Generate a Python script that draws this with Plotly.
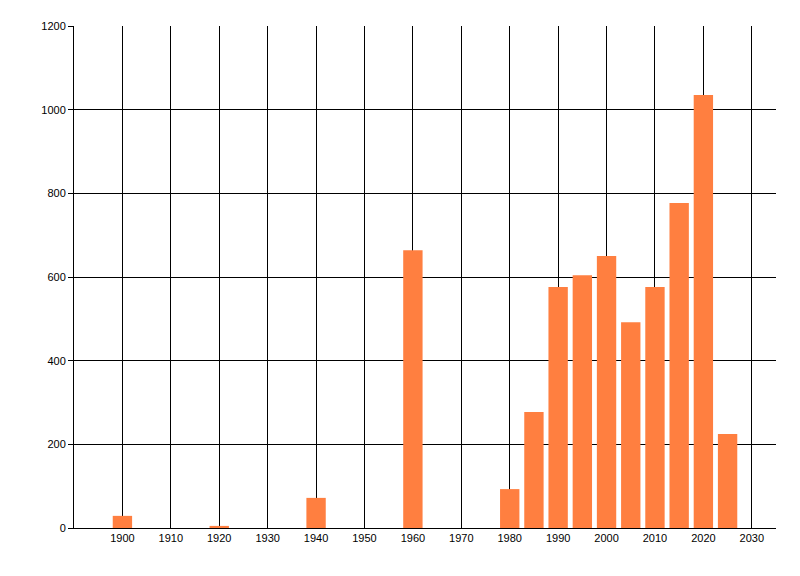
import plotly.graph_objects as go

years = [1900, 1920, 1940, 1960, 1980, 1985, 1990, 1995, 2000, 2005, 2010, 2015, 2020, 2025]
counts = [29, 5, 72, 664, 93, 277, 576, 604, 650, 492, 576, 777, 1035, 225]

x_ticks = list(range(1900, 2031, 10))
y_ticks = list(range(0, 1201, 200))

fig = go.Figure(go.Bar(
    x=years,
    y=counts,
    width=4,
    marker=dict(color="#FF7F40", line=dict(width=0)),
))

# page body adds an 8px margin, so margins are shifted to compensate
fig.update_layout(
    width=800, height=576,
    margin=dict(l=66, r=32, t=18, b=56),
    plot_bgcolor="white",
    paper_bgcolor="white",
    showlegend=False,
    font=dict(family="Liberation Sans", size=11, color="black"),
    xaxis=dict(
        range=[1890, 2035],
        tickvals=x_ticks,
        showgrid=True, gridcolor="black", gridwidth=1,
        zeroline=False,
        showline=True, linecolor="black", linewidth=1,
        ticks="", ticklen=0,
    ),
    yaxis=dict(
        range=[0, 1200],
        tickvals=y_ticks,
        showgrid=True, gridcolor="black", gridwidth=1,
        zeroline=False,
        showline=True, linecolor="black", linewidth=1,
        ticks="outside", ticklen=5, tickcolor="black",
    ),
)

fig.write_html("out.html")
